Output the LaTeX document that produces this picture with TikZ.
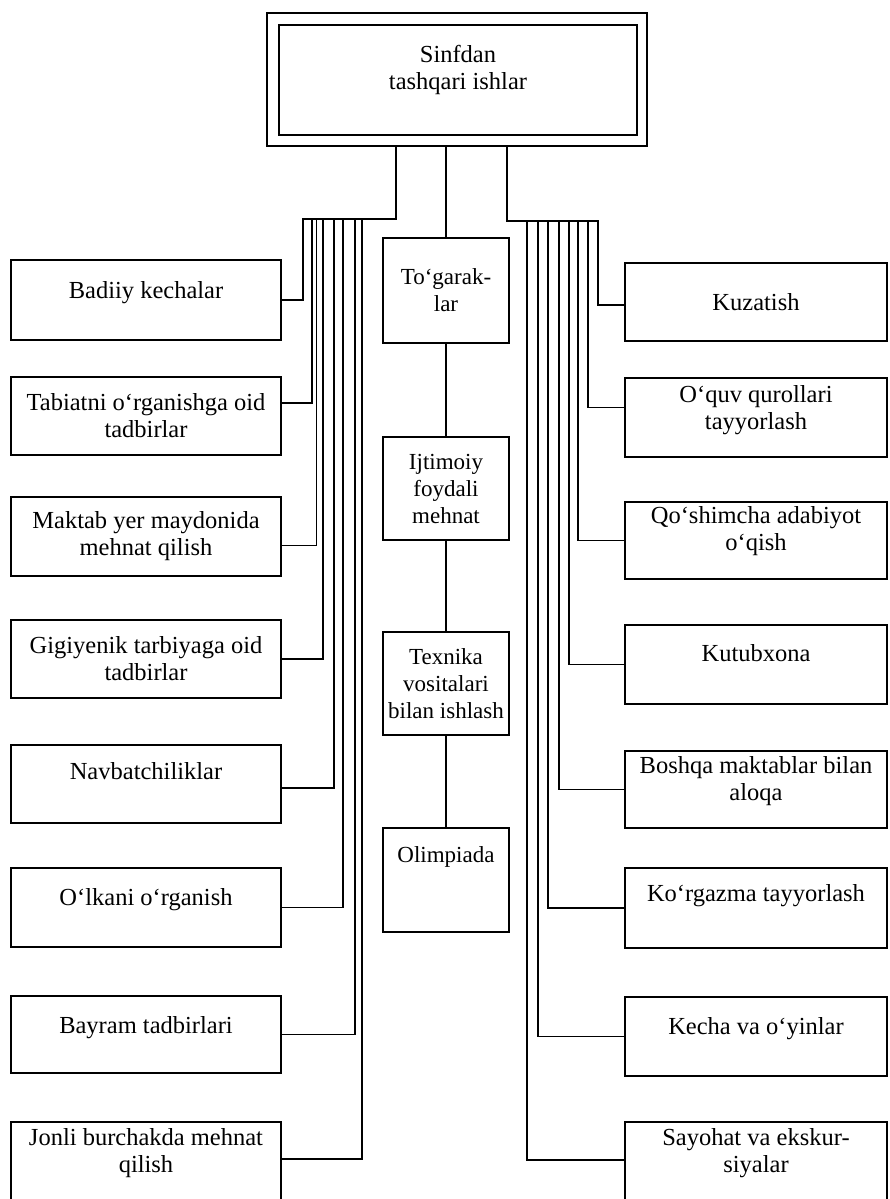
\documentclass[tikz,border=0pt]{standalone}
\usepackage{fontspec}
\setmainfont{Liberation Serif}
\begin{document}
\begin{tikzpicture}[x=1pt,y=-1pt,
  box/.style={draw, line width=1.8pt, inner sep=0pt, align=center, font=\fontsize{24.5}{27}\selectfont},
  lbox/.style={box, minimum width=270pt},
  rbox/.style={box, minimum width=262pt},
  cbox/.style={box, minimum width=126pt, font=\fontsize{23}{27}\selectfont},
  link/.style={line width=1.8pt, line cap=rect}]
\useasboundingbox (0,0) rectangle (889,1199);
\fill[white] (0,0) rectangle (889,1199);
\clip (0,0) rectangle (889,1199);

% top box (double frame)
\node[box, minimum width=380pt, minimum height=133pt] (topouter) at (457,79.5) {};
\node[box, minimum width=358pt, minimum height=110pt] (top) at (458,80) {Sinfdan\\tashqari ishlar\\[-2pt]\mbox{}};

% centre column
\node[cbox, minimum height=105pt] (c1) at (446,290.5) {To‘garak-\\lar};
\node[cbox, minimum height=103pt] (c2) at (446,488.5) {Ijtimoiy\\foydali\\mehnat};
\node[cbox, minimum height=103pt] (c3) at (446,683.5) {Texnika\\vositalari\\bilan ishlash};
\node[cbox, minimum height=104pt] (c4) at (446,880) {Olimpiada\\[23pt]\mbox{}};

% left column
\node[lbox, minimum height=80pt] (L1) at (146,300) {Badiiy kechalar\\[-6pt]\mbox{}};
\node[lbox, minimum height=78pt] (L2) at (146,416) {Tabiatni o‘rganishga oid\\tadbirlar};
\node[lbox, minimum height=79pt] (L3) at (146,536.5) {Maktab yer maydonida\\mehnat qilish};
\node[lbox, minimum height=78pt] (L4) at (146,659) {Gigiyenik tarbiyaga oid\\tadbirlar};
\node[lbox, minimum height=78pt] (L5) at (146,784) {Navbatchiliklar\\[-1pt]\mbox{}};
\node[lbox, minimum height=79pt] (L6) at (146,907.5) {O‘lkani o‘rganish\\[-6pt]\mbox{}};
\node[lbox, minimum height=77pt] (L7) at (146,1034.5) {Bayram tadbirlari\\[-8pt]\mbox{}};
\node[lbox, minimum height=82pt] (L8) at (146,1163) {Jonli burchakda mehnat\\qilish\\[-2pt]\mbox{}};

% right column
\node[rbox, minimum height=78pt] (R1) at (756,302) {Kuzatish};
\node[rbox, minimum height=79pt] (R2) at (756,417.5) {O‘quv qurollari\\tayyorlash\\[-6pt]\mbox{}};
\node[rbox, minimum height=77pt] (R3) at (756,540.5) {Qo‘shimcha adabiyot\\o‘qish\\[-2pt]\mbox{}};
\node[rbox, minimum height=79pt] (R4) at (756,664.5) {Kutubxona\\[-4pt]\mbox{}};
\node[rbox, minimum height=77pt] (R5) at (756,789.5) {Boshqa maktablar bilan\\aloqa\\[-4pt]\mbox{}};
\node[rbox, minimum height=80pt] (R6) at (756,908) {Ko‘rgazma tayyorlash\\[4pt]\mbox{}};
\node[rbox, minimum height=79pt] (R7) at (756,1036.5) {Kecha va o‘yinlar\\[-6pt]\mbox{}};
\node[rbox, minimum height=82pt] (R8) at (756,1163) {Sayohat va ekskur-\\siyalar\\[-2pt]\mbox{}};

% bundle coordinates
\coordinate (LJ) at (396,219);
\coordinate (RJ) at (507,221);
\coordinate (lt1) at (303,219);
\coordinate (lt2) at (312,219);
\coordinate (lt3) at (316.5,219);
\coordinate (lt4) at (323,219);
\coordinate (lt5) at (334,219);
\coordinate (lt6) at (343,219);
\coordinate (lt7) at (355,219);
\coordinate (lt8) at (362,219);
\coordinate (rt1) at (598,221);
\coordinate (rt2) at (588,221);
\coordinate (rt3) at (578,221);
\coordinate (rt4) at (569,221);
\coordinate (rt5) at (559,221);
\coordinate (rt6) at (548,221);
\coordinate (rt7) at (538,221);
\coordinate (rt8) at (527,221);

% centre chain
\draw[link] (topouter.south -| c1.north) -- (c1.north);
\draw[link] (c1) -- (c2);
\draw[link] (c2) -- (c3);
\draw[link] (c3) -- (c4);

% left bundle
\draw[link] (topouter.south -| LJ) -- (LJ) -- (lt1) |- (L1.east);
\draw[link] (lt2) |- ([yshift=13pt]L2.east);
\draw[link] (lt3) |- ([yshift=-9pt]L3.east);
\draw[link] (lt4) |- (L4.east);
\draw[link] (lt5) |- ([yshift=-4pt]L5.east);
\draw[link] (lt6) |- (L6.east);
\draw[link] (lt7) |- (L7.east);
\draw[link] (lt8) |- ([yshift=4pt]L8.east);

% right bundle
\draw[link] (topouter.south -| RJ) -- (RJ) -- (rt1) |- ([yshift=-3pt]R1.west);
\draw[link] (rt2) |- ([yshift=10pt]R2.west);
\draw[link] (rt3) |- (R3.west);
\draw[link] (rt4) |- (R4.west);
\draw[link] (rt5) |- (R5.west);
\draw[link] (rt6) |- (R6.west);
\draw[link] (rt7) |- (R7.west);
\draw[link] (rt8) |- ([yshift=3pt]R8.west);
\end{tikzpicture}
\end{document}
